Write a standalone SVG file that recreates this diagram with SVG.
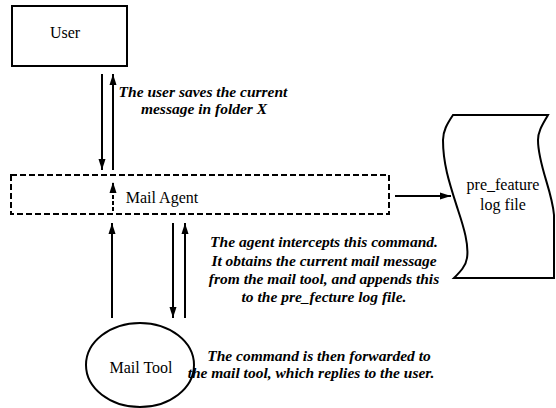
<svg xmlns="http://www.w3.org/2000/svg" width="556" height="408" viewBox="0 0 556 408">
<style>
.box{fill:#fff;stroke:#000;stroke-width:2}
.dash{fill:none;stroke:#000;stroke-width:2;stroke-dasharray:6 3}
.lbl{font-family:"Liberation Serif","Times New Roman",serif;font-size:16px;fill:#000;text-anchor:middle}
.note{font-family:"Liberation Serif","Times New Roman",serif;font-size:15.5px;font-style:italic;font-weight:bold;fill:#000;text-anchor:middle}
.ln{stroke:#000;stroke-width:2;fill:none}
</style>
<defs>
<marker id="ah" markerUnits="userSpaceOnUse" markerWidth="12" markerHeight="10" refX="11" refY="5" orient="auto">
<path d="M0,1.5 L11,5 L0,8.5 Z" fill="#000"/>
</marker>
</defs>
<rect width="556" height="408" fill="#fff"/>
<g id="user">
<rect class="box" x="12" y="6" width="115" height="60"/>
<text class="lbl" x="65" y="38">User</text>
</g>
<g id="mail-agent">
<rect class="dash" x="11" y="175" width="378" height="39"/>
<text class="lbl" x="162" y="203">Mail Agent</text>
</g>
<g id="log-file">
<path class="box" d="M453,115 L548,115 C543,124 538,131 538,140 C538,165 552,190 554,215 L554,278 L454,278 C460,272 466,266 467,258 C469,245 464,228 458,210 C450,185 443,165 443,140 C443,131 447,124 453,115 Z"/>
<text class="lbl" x="503" y="190">pre_feature</text>
<text class="lbl" x="503" y="210">log file</text>
</g>
<g id="mail-tool">
<ellipse class="box" cx="140" cy="365" rx="54" ry="42"/>
<text class="lbl" x="141" y="373">Mail Tool</text>
</g>
<g id="connectors">
<line class="ln" x1="102" y1="74" x2="102" y2="170" marker-end="url(#ah)"/>
<line class="ln" x1="113" y1="170" x2="113" y2="74" marker-end="url(#ah)"/>
<line class="ln" x1="113" y1="211" x2="113" y2="182" stroke-dasharray="4 2" marker-end="url(#ah)"/>
<line class="ln" x1="112" y1="318" x2="112" y2="223" marker-end="url(#ah)"/>
<line class="ln" x1="173" y1="223" x2="173" y2="318" marker-end="url(#ah)"/>
<line class="ln" x1="185" y1="318" x2="185" y2="223" marker-end="url(#ah)"/>
<line class="ln" x1="395" y1="196" x2="451" y2="196" marker-end="url(#ah)"/>
</g>
<g id="notes">
<text class="note" x="203" y="97">The user saves the current</text>
<text class="note" x="204" y="114">message in folder X</text>
<text class="note" x="324" y="247">The agent intercepts this command.</text>
<text class="note" x="324" y="266">It obtains the current mail message</text>
<text class="note" x="324" y="284">from the mail tool, and appends this</text>
<text class="note" x="324" y="302">to the pre_fecture log file.</text>
<text class="note" x="319" y="361">The command is then forwarded to</text>
<text class="note" x="311" y="378">the mail tool, which replies to the user.</text>
</g>
</svg>
